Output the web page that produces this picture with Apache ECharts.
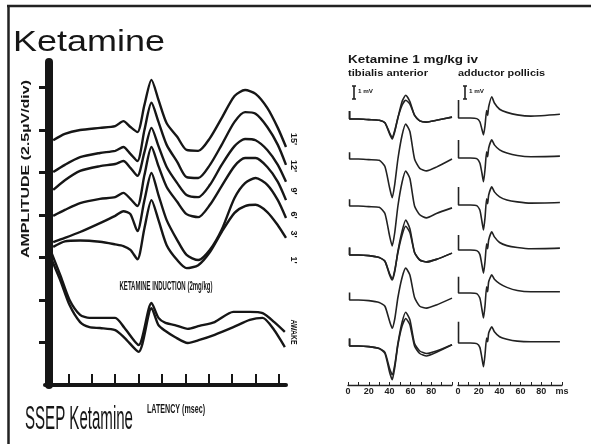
<!DOCTYPE html>
<html>
<head>
<meta charset="utf-8">
<style>
html, body { margin: 0; padding: 0; background: #fff; }
#main { width: 591px; height: 444px; }
</style>
<script src="https://cdn.jsdelivr.net/npm/echarts@6/dist/echarts.min.js"></script>
</head>
<body>
<div id="main"></div>
<script>
// ---- SSEP panel (left): latency in axis units, amplitude in divisions ----
var ssepLatency = [3.5, 8.5, 15, 23.5, 30, 33.5, 36.5, 39.5, 42.5, 45.5, 48.5, 52, 56.5, 60.5, 65.5, 70.5, 75.5, 81, 85.5, 90, 95, 99.5, 103];
var ssepInduction1 = [5.76, 5.91, 6.00, 6.05, 6.09, 6.21, 6.07, 5.95, 6.59, 7.18, 6.71, 6.16, 5.84, 5.53, 5.51, 5.81, 6.28, 6.80, 6.94, 6.85, 6.52, 6.05, 5.60];
var ssepInduction2 = [5.01, 5.18, 5.36, 5.46, 5.51, 5.60, 5.44, 5.27, 6.00, 6.64, 6.19, 5.65, 5.25, 4.89, 4.87, 5.18, 5.65, 6.19, 6.42, 6.38, 6.07, 5.65, 5.18];
var ssepInduction3 = [4.59, 4.82, 5.04, 5.15, 5.20, 5.27, 5.11, 4.92, 5.48, 6.05, 5.62, 5.13, 4.75, 4.47, 4.42, 4.71, 5.18, 5.62, 5.79, 5.76, 5.53, 5.18, 4.78];
var ssepInduction4 = [3.98, 4.12, 4.28, 4.38, 4.42, 4.52, 4.38, 4.21, 4.94, 5.60, 5.15, 4.66, 4.31, 4.02, 3.95, 4.24, 4.68, 5.15, 5.34, 5.34, 5.13, 4.78, 4.35];
var ssepInduction5 = [3.36, 3.46, 3.60, 3.81, 3.98, 4.09, 4.02, 3.62, 4.35, 4.99, 4.47, 3.88, 3.41, 3.06, 2.94, 3.18, 3.65, 4.40, 4.75, 4.87, 4.71, 4.35, 3.93];
var ssepInduction6 = [3.25, 3.38, 3.40, 3.37, 3.31, 3.27, 3.18, 2.96, 3.69, 4.35, 3.88, 3.29, 2.94, 2.75, 2.82, 3.13, 3.60, 4.05, 4.21, 4.24, 4.07, 3.76, 3.46];
var ssepTraceLabels = ["15'", "12'", "9'", "6'", "3'", "1'"];

var awakeLatency = [2, 6.5, 10.5, 15, 19, 23.5, 30, 34, 40, 45.5, 48.5, 51.5, 55.5, 61, 66, 72.5, 80.5, 87.5, 93, 98, 102.5];
var awakeUpper = [3.22, 2.59, 2.00, 1.65, 1.58, 1.58, 1.58, 1.34, 0.94, 1.93, 1.58, 1.46, 1.41, 1.32, 1.39, 1.48, 1.72, 1.72, 1.69, 1.48, 1.25];
var awakeLower = [3.06, 2.47, 1.88, 1.48, 1.36, 1.34, 1.29, 1.11, 0.78, 1.81, 1.41, 1.27, 1.13, 0.99, 1.06, 1.18, 1.36, 1.53, 1.58, 1.29, 0.89];

var ssepXTicks = [10, 20, 30, 40, 50, 60, 70, 80, 90, 100];
var ssepYTicks = [1, 2, 3, 4, 5, 6, 7];

// ---- EMG panel (right): time in ms, amplitude in mV ----
var tibTime = [1.5, 1.5, 10, 20, 30, 35.5, 40, 42.5, 45, 48, 52, 55.5, 59.5, 64, 69, 75.5, 85, 100];
var tibRow1 = [0.65, 0, 0, -0.05, -0.1, -0.3, -1.2, -1.6, -1.0, 0.1, 1.4, 1.9, 1.4, 0.3, -0.15, -0.25, -0.1, 0.15];
var tibRow2 = [0.55, 0, 0, -0.05, -0.1, -0.6, -2.3, -3.1, -2.0, 0, 1.9, 2.8, 2.2, 0, -0.75, -0.95, -0.65, 0];
var tibRow3 = [0.55, 0, 0, -0.05, -0.1, -0.6, -2.4, -3.2, -2.1, 0, 1.9, 2.8, 2.2, 0, -0.7, -0.95, -0.6, -0.15];
var tibRow4 = [0.6, 0, 0, -0.05, -0.2, -0.5, -1.6, -2.0, -1.3, 0.3, 1.9, 2.8, 2.1, 0.2, -0.4, -0.55, -0.35, 0.15];
var tibRow5 = [0.6, 0, 0, -0.05, -0.2, -0.5, -1.7, -2.25, -1.5, 0.2, 1.8, 2.55, 2.0, 0.2, -0.5, -0.65, -0.4, 0.15];
var tibRow6 = [0.6, 0, 0, -0.05, -0.2, -0.5, -1.8, -2.3, -1.5, 0.2, 1.9, 2.7, 2.1, 0.2, -0.4, -0.6, -0.4, 0.1];
// superimposed sweeps
var tibRow1b = [0.65, 0, 0, -0.05, -0.1, -0.3, -1.1, -1.5, -0.9, 0.1, 1.1, 1.5, 1.2, 0.3, -0.15, -0.25, -0.1, 0.15];
var tibRow4b = [0.6, 0, 0, -0.05, -0.2, -0.5, -1.5, -1.9, -1.2, 0.2, 1.6, 2.3, 1.8, 0.2, -0.4, -0.55, -0.35, 0.15];
var tibRow6b = [0.6, 0, 0, -0.05, -0.2, -0.6, -2.1, -2.7, -1.7, 0.1, 1.6, 2.2, 1.7, 0.0, -0.6, -0.8, -0.5, 0.1];

var addTime = [0.5, 0.5, 12, 18, 21, 23, 24.5, 26, 27.5, 28.5, 29.5, 32.5, 35, 40, 47, 57, 70, 98];
var addRow1 = [1.45, 0, 0, -0.05, -0.3, -0.9, -1.35, -0.6, 0.6, 0.2, 0.9, 1.7, 1.2, 0.7, 0.45, 0.25, 0.15, 0.3];
var addRow2 = [1.45, 0, 0, -0.05, -0.4, -1.2, -1.9, -0.9, 0.5, 0.1, 0.8, 1.45, 1.05, 0.65, 0.4, 0.2, 0.1, 0.15];
var addRow3 = [1.45, 0, 0, -0.05, -0.4, -1.3, -2.0, -1.0, 0.5, 0.1, 0.8, 1.45, 1.05, 0.65, 0.4, 0.25, 0.15, 0.2];
var addRow4 = [1.2, 0, 0, -0.05, -0.35, -1.2, -1.85, -0.9, 0.5, 0.1, 0.8, 1.45, 1.05, 0.6, 0.35, 0.2, 0.1, 0.15];
var addRow5 = [1.3, 0, 0, -0.05, -0.4, -1.3, -2.0, -1.0, 0.5, 0.1, 0.9, 1.45, 1.1, 0.75, 0.45, 0.2, 0.1, 0.1];
var addRow6 = [1.7, 0, 0, -0.05, -0.35, -1.2, -1.9, -0.9, 0.4, 0.1, 0.8, 1.3, 0.9, 0.5, 0.3, 0.15, 0.1, 0.1];

var emgTicks = [0, 10, 20, 30, 40, 50, 60, 70, 80, 90, 100];
var emgLabels = [0, 20, 40, 60, 80];
var emgLabelsRight = [0, 20, 40, 60, 80, 100];

// ---- layout ----
var INK = '#161616';
var FONT = '"Liberation Sans", Arial, sans-serif';
var tibRowsY = [119, 159, 206, 255, 300, 346];   // baseline pixel of each sweep
var addRowsY = [118, 158, 205, 250, 293, 343];
var ssepLabelY = [139, 166, 191, 215, 234, 260];

function pairs(xs, ys) {
  return xs.map(function (x, i) { return [x, ys[i]]; });
}

var ctx = document.createElement('canvas').getContext('2d');
function txt(str, x, y, size, weight, width, align, rotation) {
  ctx.font = weight + ' ' + size + 'px ' + FONT;
  var sx = width ? width / ctx.measureText(str).width : 1;
  return {
    type: 'text', x: x, y: y, rotation: rotation || 0, scaleX: sx, silent: true,
    style: { text: str, fontSize: size, fontWeight: weight, fontFamily: FONT, fill: INK,
      align: align || 'left', verticalAlign: 'middle' }
  };
}

var grids = [], xAxes = [], yAxes = [], series = [];

function hiddenAxis(gi, min, max) {
  return { gridIndex: gi, type: 'value', min: min, max: max, show: false, splitLine: { show: false } };
}

// grid 0: SSEP
grids.push({ left: 45, top: 62, width: 241, height: 323, outerBoundsMode: 'none' });
xAxes.push({
  gridIndex: 0, type: 'value', min: 0, max: 103,
  axisLine: { show: true, onZero: false, lineStyle: { color: INK, width: 4 } },
  axisTick: { show: true, inside: true, length: 11, customValues: ssepXTicks, lineStyle: { color: INK, width: 2 } },
  axisLabel: { show: false }, splitLine: { show: false }
});
yAxes.push({
  gridIndex: 0, type: 'value', min: 0, max: 7.6, offset: -4,
  axisLine: { show: true, onZero: false, lineStyle: { color: INK, width: 8 } },
  axisTick: { show: true, length: 10, customValues: ssepYTicks, lineStyle: { color: INK, width: 3 } },
  axisLabel: { show: false }, splitLine: { show: false }
});

var ssepTraces = [ssepInduction1, ssepInduction2, ssepInduction3, ssepInduction4, ssepInduction5, ssepInduction6];
ssepTraces.forEach(function (ys) {
  series.push({ type: 'line', xAxisIndex: 0, yAxisIndex: 0, data: pairs(ssepLatency, ys),
    smooth: 0.25, symbol: 'none', lineStyle: { color: INK, width: 2.4 } });
});
[awakeUpper, awakeLower].forEach(function (ys) {
  series.push({ type: 'line', xAxisIndex: 0, yAxisIndex: 0, data: pairs(awakeLatency, ys),
    smooth: 0.25, symbol: 'none', lineStyle: { color: INK, width: 2.4 } });
});

// EMG sweeps, one grid per sweep
function addSweeps(rowsY, left, time, rows, extra) {
  rows.forEach(function (ys, r) {
    var gi = grids.length;
    grids.push({ left: left, width: 104, top: rowsY[r] - 50, height: 100, outerBoundsMode: 'none' });
    xAxes.push(hiddenAxis(gi, 0, 100));
    yAxes.push(hiddenAxis(gi, -4, 4));
    var sweeps = [ys].concat(extra[r] || []);
    sweeps.forEach(function (s) {
      series.push({ type: 'line', xAxisIndex: gi, yAxisIndex: gi, data: pairs(time, s),
        smooth: 0.2, symbol: 'none', clip: false, lineStyle: { color: '#222', width: 1.6 } });
    });
  });
}
addSweeps(tibRowsY, 348, tibTime, [tibRow1, tibRow2, tibRow3, tibRow4, tibRow5, tibRow6],
  { 0: [tibRow1b], 3: [tibRow4b], 5: [tibRow6b] });
addSweeps(addRowsY, 458, addTime, [addRow1, addRow2, addRow3, addRow4, addRow5, addRow6], {});

// time scales under the sweeps
function timeScale(left, labels, fmt) {
  var gi = grids.length;
  grids.push({ left: left, width: 104, top: 375, height: 10, outerBoundsMode: 'none' });
  xAxes.push({
    gridIndex: gi, type: 'value', min: 0, max: 100, position: 'bottom',
    axisLine: { show: true, onZero: false, lineStyle: { color: '#222', width: 1.4 } },
    axisTick: { show: true, inside: true, length: 3, customValues: emgTicks, lineStyle: { color: '#222', width: 1 } },
    axisLabel: { show: true, customValues: labels, margin: 2, fontSize: 9, fontWeight: 'bold',
      fontFamily: FONT, color: '#222', formatter: fmt },
    splitLine: { show: false }
  });
  yAxes.push(hiddenAxis(gi, 0, 1));
}
timeScale(348, emgLabels, function (v) { return String(v); });
timeScale(458, emgLabelsRight, function (v) { return v === 100 ? 'ms' : String(v); });

// texts and frame
var graphics = [
  { type: 'line', silent: true, shape: { x1: 7, y1: 6, x2: 591, y2: 6 }, style: { stroke: '#222', lineWidth: 2.5 } },
  { type: 'line', silent: true, shape: { x1: 8.5, y1: 5, x2: 8.5, y2: 444 }, style: { stroke: '#222', lineWidth: 2.5 } },
  txt('Ketamine', 13, 43, 29, 'normal', 152),
  txt('SSEP Ketamine', 25, 420, 34, 'normal', 108),
  txt('KETAMINE INDUCTION (2mg/kg)', 166, 287, 12, 'bold', 93, 'center'),
  txt('LATENCY (msec)', 176, 409, 13, 'bold', 58, 'center'),
  txt('AMPLITUDE (2.5\u00b5V/div)', 26, 169, 11, 'bold', 178, 'center', Math.PI / 2),
  txt('AWAKE', 293, 332, 9, 'bold', 25, 'center', -Math.PI / 2),
  txt('Ketamine 1 mg/kg iv', 348, 60, 11, 'bold', 130),
  txt('tibialis anterior', 348, 74, 9, 'bold', 80),
  txt('adductor pollicis', 458, 74, 9, 'bold', 87),
  txt('1 mV', 358, 91, 6, 'bold', 15),
  txt('1 mV', 469, 91, 6, 'bold', 15)
];
ssepTraceLabels.forEach(function (s, i) {
  graphics.push(txt(s, 293, ssepLabelY[i], 9, 'bold', 0, 'center', -Math.PI / 2));
});
[354, 465].forEach(function (x) {
  graphics.push({ type: 'polyline', silent: true,
    shape: { points: [[x - 2, 86], [x + 2, 86], [x, 86], [x, 99], [x - 2, 99], [x + 2, 99]] },
    style: { stroke: '#222', lineWidth: 1.6, fill: null } });
});

var chart = echarts.init(document.getElementById('main'));
chart.setOption({
  animation: false,
  backgroundColor: '#fff',
  grid: grids,
  xAxis: xAxes,
  yAxis: yAxes,
  series: series,
  graphic: graphics
});
</script>
</body>
</html>
